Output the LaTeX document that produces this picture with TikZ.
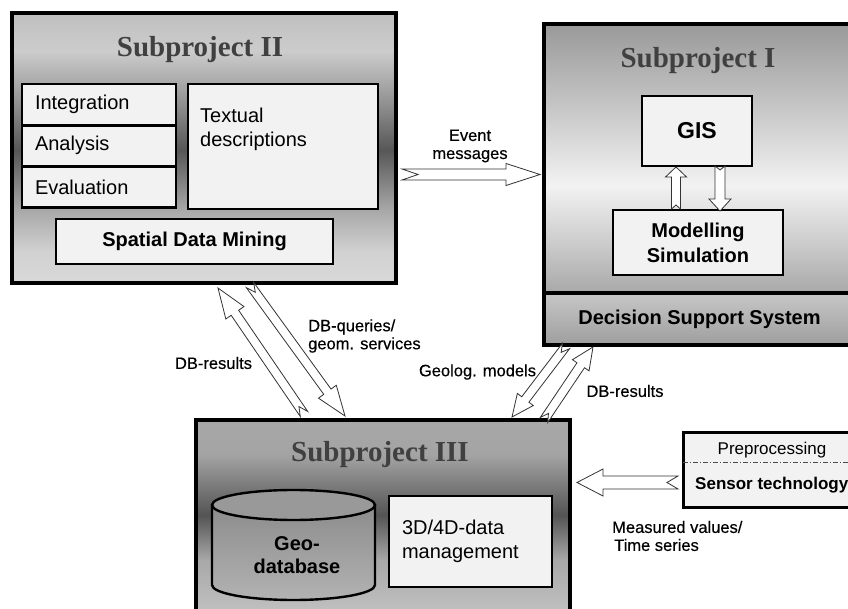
\documentclass[tikz,border=0pt]{standalone}
\usepackage{fontspec}
\setmainfont{Liberation Sans}
\newfontfamily\titlefont{Liberation Serif}
\newfontfamily\notefont{Liberation Sans}[FakeBold=0.35]
\usetikzlibrary{positioning,calc}

\definecolor{boxfill}{HTML}{F2F2F2}
\definecolor{titlegray}{HTML}{404040}

% gray gradients of the subproject frames (positions from bottom to top)
\pgfdeclareverticalshading{spone}{100bp}{gray(0bp)=(0.66); gray(25bp)=(0.66); gray(33bp)=(0.78); gray(45bp)=(0.95); gray(61bp)=(0.76); gray(75bp)=(0.60); gray(100bp)=(0.60)}
\pgfdeclareverticalshading{sptwo}{100bp}{gray(0bp)=(0.85); gray(25bp)=(0.85); gray(31bp)=(0.82); gray(38.5bp)=(0.66); gray(49.6bp)=(0.34); gray(60.7bp)=(0.63); gray(68bp)=(0.80); gray(75bp)=(0.75); gray(100bp)=(0.75)}
\pgfdeclareverticalshading{spthree}{100bp}{gray(0bp)=(0.76); gray(25bp)=(0.76); gray(39bp)=(0.66); gray(50.6bp)=(0.33); gray(66bp)=(0.64); gray(75bp)=(0.66); gray(100bp)=(0.66)}

\tikzset{
	% frames and boxes
	spframe/.style = {rectangle, draw=black, line width=3.5pt, outer sep=0pt,
	                  inner sep=0pt, shade},
	sptitle/.style = {font=\titlefont\bfseries\fontsize{29}{32}\selectfont, text=titlegray},
	part/.style = {rectangle, draw=black, line width=2.4pt, fill=boxfill,
	               outer sep=0pt, font=\fontsize{20}{24}\selectfont},
	boldpart/.style = {part, font=\fontsize{20}{25}\selectfont\bfseries},
	listpart/.style = {part, minimum height=40.5pt, text width=128pt,
	                   inner xsep=13pt, align=left},
	note/.style = {font=\notefont\fontsize{16.5}{18}\selectfont, inner sep=0pt},
	% hollow block arrow with a notched tail
	blk w/.store in=\blkW, blk head w/.store in=\blkHW,
	blk head/.store in=\blkH, blk notch/.store in=\blkN,
	blk w=5.5pt, blk head w=11pt, blk head=34pt, blk notch=16pt,
	blockarrow/.style = {draw=black!80, fill=white, line width=0.8pt,
		to path={
			($(\tikztostart)!\blkW!90:(\tikztotarget)$)
			-- ($(\tikztotarget)!\blkH!(\tikztostart)!\blkW!-90:(\tikztostart)$)
			-- ($(\tikztotarget)!\blkH!(\tikztostart)!\blkHW!-90:(\tikztostart)$)
			-- (\tikztotarget)
			-- ($(\tikztotarget)!\blkH!(\tikztostart)!\blkHW!90:(\tikztostart)$)
			-- ($(\tikztotarget)!\blkH!(\tikztostart)!\blkW!90:(\tikztostart)$)
			-- ($(\tikztostart)!\blkW!-90:(\tikztotarget)$)
			-- ($(\tikztostart)!\blkN!(\tikztotarget)$)
			-- cycle}}
}

\begin{document}
\begin{tikzpicture}[x=1pt, y=1pt]
	\path[use as bounding box, fill=white] (0,0) rectangle (848,608);

	% Subproject II
	\node (sp2) [spframe, shading=sptwo, minimum width=384pt, minimum height=270pt] at (204,460) {};
	\node (sp2-title) [sptitle] at (200,558) {Subproject II};
	\node (integ) [listpart]                    at (99,503.5) {Integration};
	\node (anal)  [listpart, below=0.8pt of integ] {Analysis};
	\node (evalu) [listpart, below=0.8pt of anal]  {Evaluation};
	\node (textual) [part, minimum width=190pt, minimum height=125pt,
	                 right=12pt of integ.north east, anchor=north west] {};
	\node (textual-lbl) [anchor=west, align=left, inner sep=0pt,
	                     font=\fontsize{20}{24}\selectfont] at (200,479) {Textual\\descriptions};
	\node (sdm) [boldpart, minimum width=277pt, minimum height=45pt] at (194.5,366.5) {Spatial Data Mining};

	% Subproject I
	\node (sp1) [spframe, shading=spone, minimum width=311pt, minimum height=269pt] at (699.5,449.5) {};
	\node (dss) [spframe, top color=black!22, bottom color=black!38, minimum width=311pt,
	             minimum height=52pt, anchor=north, font=\fontsize{20}{24}\selectfont\bfseries]
	             at (sp1.south) {Decision Support System};
	\node (sp1-title) [sptitle] at (698,547) {Subproject I};
	\node (gis) [part, minimum width=110pt, minimum height=70pt,
	             font=\fontsize{23}{26}\selectfont\bfseries] at (697,477) {GIS};
	\node (model) [boldpart, minimum width=170pt, minimum height=65pt, align=center]
	             at (698,365.5) {Modelling\\Simulation};

	% Subproject III
	\node (sp3) [spframe, shading=spthree, minimum width=374pt, minimum height=195pt] at (383,90.5) {};
	\node (sp3-title) [sptitle] at (380,153) {Subproject III};
	\shade[top color=black!45, middle color=black!64, bottom color=black!30, draw=black, line width=2.4pt]
		(212,103) -- (212,23) arc[start angle=180, end angle=360, x radius=81.5, y radius=15]
		-- (375,103) -- cycle;
	\filldraw[fill=black!40, draw=black, line width=2.4pt] (293.5,103) ellipse [x radius=81.5, y radius=15];
	\node (geodb) [align=center, font=\fontsize{20}{23}\selectfont\bfseries] at (297,52.5) {Geo-\\database};
	\node (dm34) [part, minimum height=91pt, text width=137pt, inner xsep=13pt, align=left]
	             at (470.5,66.5) {3D/4D-data\\management};

	% sensor box
	\node (sens) [part, line width=3pt, minimum width=177pt, minimum height=75pt] at (771.5,138.5) {};
	\node (prep) [minimum height=24pt, inner sep=0pt, font=\fontsize{17}{20}\selectfont]
	             at (772,158) {Preprocessing};
	\node (senstech) [anchor=west, inner sep=0pt, font=\fontsize{17}{20}\selectfont\bfseries]
	             at (695,123) {Sensor technology};
	\draw[black!70, line width=0.8pt, dash pattern=on 5pt off 2pt on 1pt off 2pt]
		(sens.west |- prep.south) -- (sens.east |- prep.south);

	% arrow ends
	\coordinate (evt-s)    at (402,433.5); \coordinate (evt-t)    at (540,433.5);
	\coordinate (gisup-s)  at (676,399);   \coordinate (gisup-t)  at (676,441);
	\coordinate (gisdn-s)  at (720,442);   \coordinate (gisdn-t)  at (720,397);
	\coordinate (res-s)    at (304,194);   \coordinate (res-t)    at (218,320);
	\coordinate (qry-s)    at (250,323);   \coordinate (qry-t)    at (345,192);
	\coordinate (geo-s)    at (566,262);   \coordinate (geo-t)    at (512,191);
	\coordinate (res2-s)   at (544,188);   \coordinate (res2-t)   at (593,261);
	\coordinate (mes-s)    at (678,125.5); \coordinate (mes-t)    at (577,125.5);

	\draw[blockarrow] (evt-s) to (evt-t);
	\draw[blockarrow, blk w=4.5pt, blk head w=10.5pt, blk head=10pt, blk notch=4pt] (gisup-s) to (gisup-t);
	\draw[blockarrow, blk w=5pt, blk head w=11pt, blk head=12pt, blk notch=4pt] (gisdn-s) to (gisdn-t);
	\draw[blockarrow, blk w=4.5pt, blk head w=11pt, blk head=30pt, blk notch=9pt] (res-s) to (res-t);
	\draw[blockarrow, blk w=4.5pt, blk head w=11pt, blk head=30pt, blk notch=9pt] (qry-s) to (qry-t);
	\draw[blockarrow, blk w=4.5pt, blk head w=10pt, blk head=22pt, blk notch=8pt] (geo-s) to (geo-t);
	\draw[blockarrow, blk w=4.5pt, blk head w=10pt, blk head=22pt, blk notch=8pt] (res2-s) to (res2-t);
	\draw[blockarrow, blk w=6.5pt, blk head w=13.5pt, blk head=26pt, blk notch=11pt] (mes-s) to (mes-t);

	% labels of the arrows
	\node (lbl-evt)  [note, align=center] at (470,462) {Event\\messages};
	\node (lbl-qry)  [note, align=left, anchor=west] at (308,272) {DB-queries/\\geom. services};
	\node (lbl-res)  [note] at (213.5,245) {DB-results};
	\node (lbl-geo)  [note] at (477.5,236) {Geolog. models};
	\node (lbl-res2) [note] at (625,217) {DB-results};
	\node (lbl-mes)  [note, align=left, anchor=west] at (612,72) {Measured values/\\\hspace*{2pt}Time series};
\end{tikzpicture}
\end{document}
